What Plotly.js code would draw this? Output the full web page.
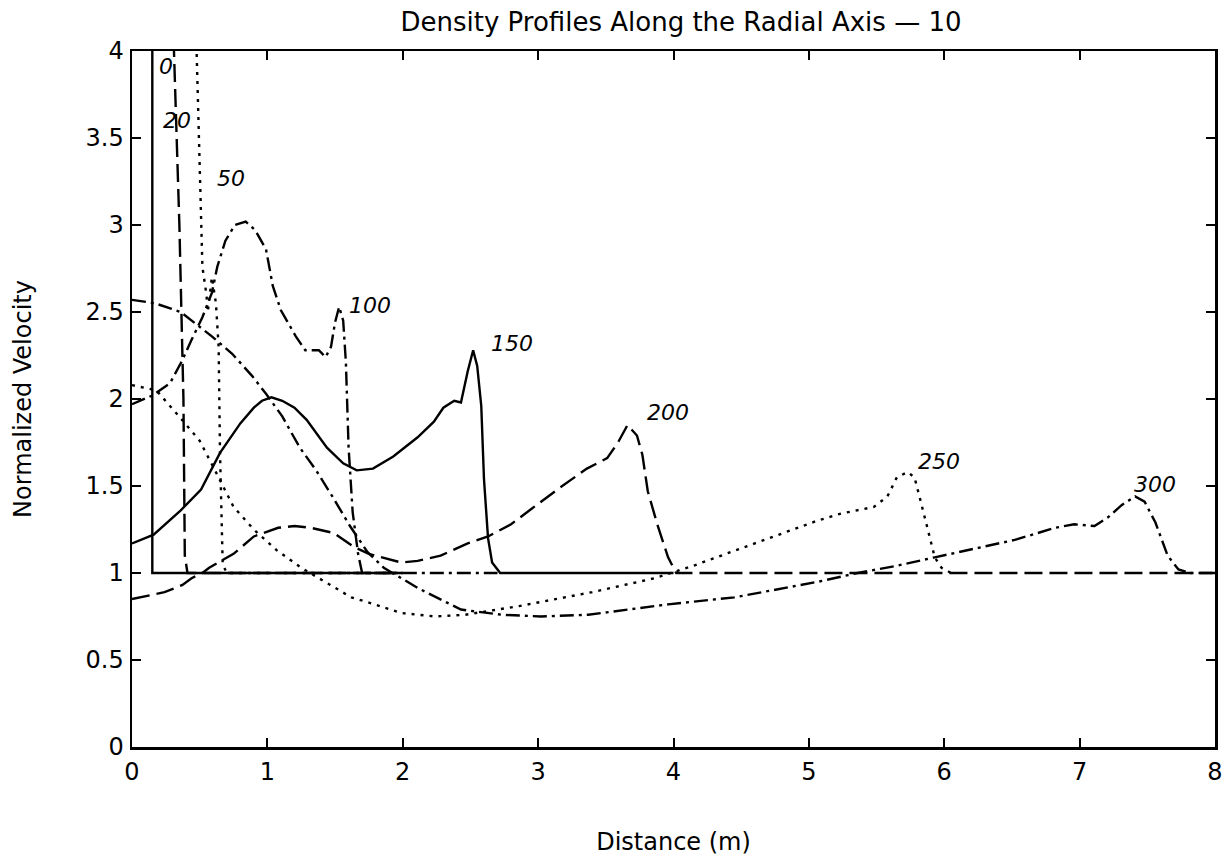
<!DOCTYPE html>
<html>
<head>
<meta charset="utf-8">
<script src="https://cdn.plot.ly/plotly-3.0.1.min.js"></script>
<style>
  html, body { margin: 0; padding: 0; background: #fff; }
  #chart { width: 1227px; height: 865px; }
</style>
</head>
<body>
<div id="chart"></div>
<script>
// Normalized velocity profiles along the radial axis at successive time steps.
// Each step has its own distance (m) and velocity arrays.

const dist0 = [0.15, 0.15, 2.0];
const vel0  = [4.5, 1.0, 1.0];

const dist20 = [0.30, 0.31, 0.35, 0.38, 0.39, 0.41, 2.0];
const vel20  = [4.5, 4.0, 3.0, 2.0, 1.1, 1.0, 1.0];

const dist50 = [0.46, 0.48, 0.50, 0.52, 0.55, 0.56, 0.59, 0.62, 0.64, 0.65, 0.67, 0.70, 2.0];
const vel50  = [4.5, 3.9, 3.2, 2.76, 2.6, 2.5, 2.7, 2.55, 2.3, 1.7, 1.05, 1.0, 1.0];

const dist100 = [0, 0.15, 0.28, 0.37, 0.44, 0.52, 0.59, 0.63, 0.69, 0.76, 0.84, 0.91, 0.99, 1.04,
                 1.10, 1.21, 1.28, 1.38, 1.43, 1.47, 1.50, 1.53, 1.56, 1.58, 1.60, 1.63, 1.67, 1.70, 2.70];
const vel100  = [1.97, 2.02, 2.09, 2.22, 2.34, 2.47, 2.61, 2.76, 2.91, 3.0, 3.02, 2.97, 2.86, 2.65,
                 2.51, 2.36, 2.28, 2.28, 2.24, 2.30, 2.44, 2.53, 2.45, 2.21, 1.72, 1.35, 1.11, 1.0, 1.0];

const dist150 = [0, 0.16, 0.36, 0.51, 0.65, 0.80, 0.90, 0.96, 1.03, 1.11, 1.20, 1.29, 1.44, 1.56, 1.66, 1.78,
                 1.93, 2.11, 2.23, 2.30, 2.38, 2.43, 2.48, 2.52, 2.55, 2.58, 2.60, 2.63, 2.66, 2.72, 4.0];
const vel150  = [1.17, 1.22, 1.36, 1.48, 1.69, 1.86, 1.95, 1.99, 2.01, 1.99, 1.95, 1.88, 1.72, 1.63, 1.59, 1.60,
                 1.67, 1.78, 1.87, 1.95, 1.99, 1.98, 2.16, 2.28, 2.19, 1.96, 1.54, 1.20, 1.06, 1.0, 1.0];

const dist200 = [0, 0.24, 0.37, 0.44, 0.52, 0.57, 0.75, 0.90, 1.08, 1.20, 1.32, 1.49, 1.64, 1.75,
                 1.99, 2.11, 2.28, 2.48, 2.63, 2.80, 2.97, 3.16, 3.36, 3.51, 3.59, 3.66, 3.73, 3.77,
                 3.81, 3.88, 3.96, 4.02, 8.0];
const vel200  = [0.85, 0.89, 0.93, 0.97, 1.0, 1.03, 1.11, 1.21, 1.26, 1.27, 1.26, 1.23, 1.15, 1.11,
                 1.06, 1.07, 1.10, 1.17, 1.21, 1.28, 1.38, 1.49, 1.60, 1.66, 1.75, 1.85, 1.79, 1.68,
                 1.47, 1.28, 1.09, 1.0, 1.0];

const dist250 = [0, 0.18, 0.37, 0.50, 0.60, 0.75, 0.90, 1.07, 1.25, 1.40, 1.62, 1.75, 1.99, 2.24,
                 2.46, 2.86, 3.40, 3.86, 4.14, 4.60, 5.06, 5.23, 5.48, 5.58, 5.65, 5.73, 5.78, 5.83,
                 5.88, 5.93, 5.98, 6.05];
const vel250  = [2.08, 2.05, 1.88, 1.76, 1.61, 1.38, 1.25, 1.13, 1.03, 0.96, 0.86, 0.83, 0.77, 0.75,
                 0.76, 0.81, 0.89, 0.97, 1.04, 1.17, 1.30, 1.34, 1.38, 1.44, 1.55, 1.58, 1.55, 1.40,
                 1.25, 1.09, 1.03, 1.0];

const dist300 = [0, 0.17, 0.36, 0.59, 0.74, 0.89, 0.99, 1.11, 1.24, 1.36, 1.48, 1.61, 1.74, 1.86,
                 2.12, 2.43, 2.73, 3.02, 3.37, 3.96, 4.45, 5.07, 5.36, 5.64, 5.93, 6.23, 6.52, 6.82,
                 6.96, 7.11, 7.21, 7.31, 7.41, 7.48, 7.56, 7.65, 7.73, 7.82, 8.0];
const vel300  = [2.57, 2.55, 2.50, 2.36, 2.26, 2.13, 2.03, 1.90, 1.72, 1.59, 1.44, 1.27, 1.12, 1.03,
                 0.91, 0.79, 0.76, 0.75, 0.76, 0.82, 0.86, 0.95, 1.00, 1.04, 1.09, 1.14, 1.19, 1.26,
                 1.28, 1.27, 1.32, 1.39, 1.44, 1.41, 1.29, 1.10, 1.02, 1.0, 1.0];

// Time-step labels and where each one is written on the plot
const stepLabels = ['0', '20', '50', '100', '150', '200', '250', '300'];
const labelX = [0.25, 0.33, 0.73, 1.76, 2.81, 3.96, 5.96, 7.56];
const labelY = [3.91, 3.60, 3.27, 2.54, 2.32, 1.92, 1.64, 1.51];

// Axis ticks
const xTickVals = [0, 1, 2, 3, 4, 5, 6, 7, 8];
const xTickText = ['0', '1', '2', '3', '4', '5', '6', '7', '8'];
const yTickVals = [0, 0.5, 1, 1.5, 2, 2.5, 3, 3.5, 4];
const yTickText = ['0', '0.5', '1', '1.5', '2', '2.5', '3', '3.5', '4'];

const DASH = '18px,7px';
const DOT = '3px,6px';
const DASHDOT = '14px,5px,3px,5px';

function profile(x, y, dash) {
  return {
    x: x, y: y, type: 'scatter', mode: 'lines',
    line: { color: '#000', width: 2.4, dash: dash },
    hoverinfo: 'x+y', showlegend: false
  };
}

const traces = [
  profile(dist0, vel0, 'solid'),
  profile(dist20, vel20, DASH),
  profile(dist50, vel50, DOT),
  profile(dist100, vel100, DASHDOT),
  profile(dist150, vel150, 'solid'),
  profile(dist200, vel200, DASH),
  profile(dist250, vel250, DOT),
  profile(dist300, vel300, DASHDOT)
];

const FONT = 'DejaVu Sans, Arial, sans-serif';

const annotations = stepLabels.map((t, i) => ({
  x: labelX[i], y: labelY[i], xref: 'x', yref: 'y',
  text: t, showarrow: false, xanchor: 'center', yanchor: 'middle',
  font: { family: FONT, size: 22, color: '#000', style: 'italic' }
}));

const axisCommon = {
  showline: true, linecolor: '#000', linewidth: 2.5,
  mirror: 'ticks', ticks: 'inside', ticklen: 9, tickwidth: 2, tickcolor: '#000',
  showgrid: false, zeroline: false,
  tickfont: { family: FONT, size: 24, color: '#000' },
  tickmode: 'array', fixedrange: true
};

const layout = {
  width: 1227, height: 865,
  paper_bgcolor: '#fff', plot_bgcolor: '#fff',
  margin: { l: 132, r: 12, t: 51, b: 118 },
  title: {
    text: 'Density Profiles Along the Radial Axis — 10',
    font: { family: FONT, size: 26, color: '#000' },
    xref: 'container', yref: 'container',
    x: 0.555, xanchor: 'center', y: 0.975, yanchor: 'middle'
  },
  xaxis: Object.assign({}, axisCommon, {
    range: [0, 8], tickvals: xTickVals, ticktext: xTickText,
    ticklabelstandoff: 2,
    title: { text: 'Distance (m)', font: { family: FONT, size: 24, color: '#000' }, standoff: 48 }
  }),
  yaxis: Object.assign({}, axisCommon, {
    range: [0, 4], tickvals: yTickVals, ticktext: yTickText,
    ticklabelstandoff: 1,
    title: { text: 'Normalized Velocity', font: { family: FONT, size: 24, color: '#000' }, standoff: 47 }
  }),
  annotations: annotations
};

Plotly.newPlot('chart', traces, layout, { displayModeBar: false, staticPlot: true });
</script>
</body>
</html>
